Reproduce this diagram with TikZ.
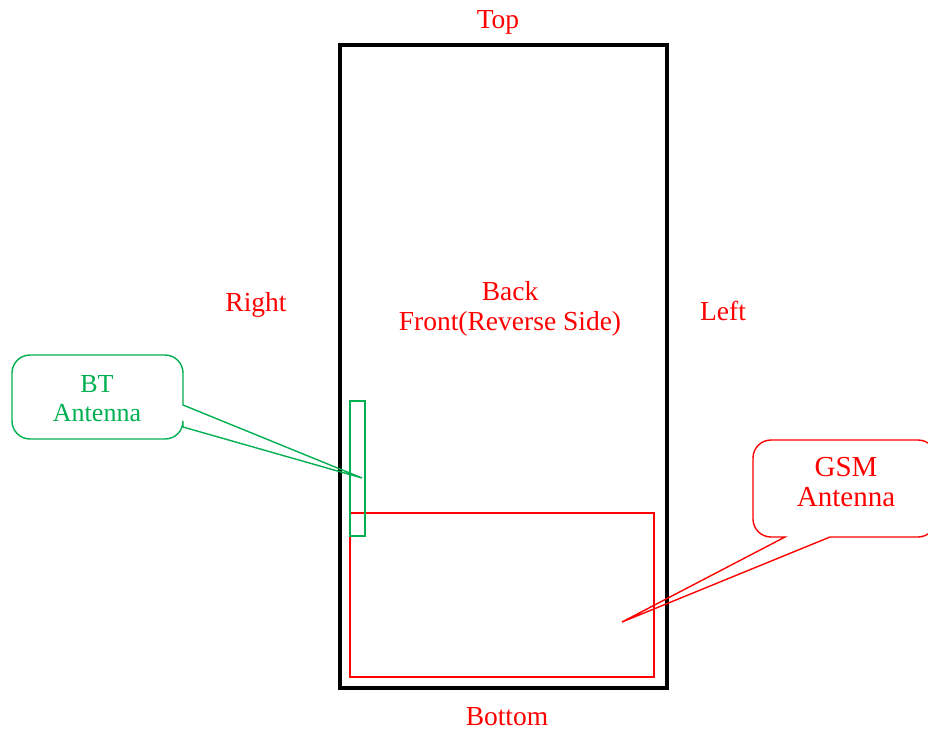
\documentclass[tikz,border=0pt]{standalone}
\usepackage{fontspec}
\setmainfont{Liberation Serif}
\definecolor{btgreen}{RGB}{0,176,80}
\begin{document}
\begin{tikzpicture}
[ x=1pt, y=-1pt
, side/.style={text=red, font=\fontsize{27.5}{30}\selectfont, align=center, inner sep=0pt}
, box/.style={draw, inner sep=0pt, outer sep=0pt}
, callout/.style={line width=1.4pt}
, callouttext/.style={font=\fontsize{26}{29}\selectfont, align=center, inner sep=0pt}
]
\useasboundingbox (0,0) rectangle (928,730);
% Phone and antenna areas:
\node (phone) [box, line width=3.6pt, minimum width=327pt, minimum height=643pt] at (503.5,366.5) {};
\node (gsmarea) [box, red, line width=1.4pt, minimum width=304pt, minimum height=164pt] at (502,595) {};
\node (btarea) [box, btgreen, line width=1.4pt, minimum width=15pt, minimum height=135pt] at (357.5,468.5) {};
% Side labels:
\node (top) [side] at (498,22) {Top};
\node (bottom) [side] at (507,717) {Bottom};
\node (right) [side] at (256,305) {Right};
\node (left) [side] at (723,311) {Left};
\node (back) [side] at (510,309) {Back\\Front(Reverse Side)};
% BT callout:
\coordinate (bttip) at (362,478);
\draw [btgreen, callout] (183,405) [rounded corners=18pt] -- (183,355) -- (12,355) -- (12,439) -- (183,439) [sharp corners] -- (183,427) -- (bttip) -- cycle;
\node (bt) [callouttext, text=btgreen] at (97,399) {BT\\Antenna};
% GSM callout:
\coordinate (gsmtip) at (622,622);
\draw [red, callout] (830,537) [rounded corners=18pt] -- (936,537) -- (936,440) -- (753,440) -- (753,537) [sharp corners] -- (785,537) -- (gsmtip) -- cycle;
\node (gsm) [callouttext, text=red, font=\fontsize{29}{30}\selectfont] at (846,482) {GSM\\Antenna};
\end{tikzpicture}
\end{document}
